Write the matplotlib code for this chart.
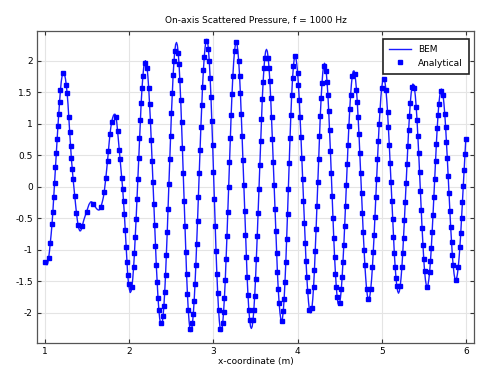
import numpy as np
import matplotlib.pyplot as plt
from matplotlib.ticker import FuncFormatter

plt.rcParams['font.family'] = ['DejaVu Sans']
plt.rcParams['axes.unicode_minus'] = False

# on-axis positions (m), sampled every 0.01 m from 1 to 6
x_first, x_last = 1.0, 6.0

# scattered pressure, one row per 0.1 m
p_bem = [
    -1.19, -1.22, -1.24, -1.21, -1.13, -1.02, -0.89, -0.75, -0.59, -0.40,
    -0.17, 0.06, 0.32, 0.54, 0.75, 0.96, 1.16, 1.35, 1.53, 1.67,
    1.76, 1.80, 1.81, 1.78, 1.71, 1.61, 1.48, 1.31, 1.10, 0.87,
    0.65, 0.45, 0.28, 0.13, -0.01, -0.15, -0.28, -0.41, -0.52, -0.61,
    -0.67, -0.70, -0.70, -0.67, -0.62, -0.57, -0.52, -0.48, -0.44, -0.40,
    -0.36, -0.32, -0.28, -0.26, -0.24, -0.24, -0.25, -0.27, -0.29, -0.31,
    -0.33, -0.35, -0.36, -0.37, -0.37, -0.35, -0.32, -0.28, -0.23, -0.17,
    -0.09, 0.02, 0.14, 0.27, 0.41, 0.56, 0.71, 0.84, 0.95, 1.03,
    1.09, 1.13, 1.15, 1.15, 1.11, 1.02, 0.88, 0.73, 0.58, 0.44,
    0.29, 0.14, -0.03, -0.22, -0.43, -0.68, -0.95, -1.20, -1.40, -1.54,
    -1.63, -1.68, -1.66, -1.59, -1.46, -1.28, -1.06, -0.80, -0.51, -0.20,
    0.13, 0.45, 0.77, 1.06, 1.33, 1.56, 1.75, 1.89, 1.97, 2.00,
    1.97, 1.89, 1.75, 1.56, 1.32, 1.05, 0.74, 0.41, 0.07, -0.27,
    -0.61, -0.94, -1.25, -1.52, -1.76, -1.95, -2.09, -2.17, -2.20, -2.17,
    -2.06, -1.90, -1.67, -1.40, -1.08, -0.72, -0.35, 0.05, 0.44, 0.81,
    1.17, 1.49, 1.77, 1.99, 2.16, 2.26, 2.29, 2.25, 2.13, 1.95,
    1.69, 1.38, 1.02, 0.62, 0.21, -0.22, -0.63, -1.03, -1.39, -1.70,
    -1.96, -2.14, -2.26, -2.30, -2.27, -2.17, -2.02, -1.81, -1.55, -1.25,
    -0.91, -0.55, -0.17, 0.21, 0.59, 0.95, 1.29, 1.59, 1.85, 2.06,
    2.21, 2.31, 2.34, 2.30, 2.18, 1.99, 1.73, 1.42, 1.05, 0.66,
    0.23, -0.19, -0.62, -1.02, -1.38, -1.69, -1.95, -2.14, -2.26, -2.30,
    -2.27, -2.16, -1.99, -1.76, -1.48, -1.15, -0.79, -0.40, 0.00, 0.39,
    0.78, 1.14, 1.47, 1.75, 1.98, 2.15, 2.26, 2.29, 2.26, 2.15,
    1.99, 1.76, 1.48, 1.16, 0.80, 0.42, 0.02, -0.38, -0.76, -1.12,
    -1.44, -1.72, -1.95, -2.11, -2.22, -2.25, -2.22, -2.12, -1.95, -1.73,
    -1.46, -1.14, -0.79, -0.42, -0.04, 0.35, 0.72, 1.07, 1.39, 1.66,
    1.88, 2.05, 2.15, 2.18, 2.15, 2.05, 1.89, 1.68, 1.41, 1.10,
    0.76, 0.40, 0.03, -0.35, -0.71, -1.05, -1.36, -1.63, -1.84, -2.00,
    -2.10, -2.13, -2.09, -1.97, -1.78, -1.51, -1.20, -0.83, -0.44, -0.03,
    0.38, 0.77, 1.14, 1.46, 1.72, 1.91, 2.03, 2.07, 2.04, 1.95,
    1.81, 1.62, 1.38, 1.10, 0.79, 0.46, 0.12, -0.23, -0.57, -0.89,
    -1.18, -1.44, -1.66, -1.83, -1.95, -2.00, -2.00, -1.93, -1.79, -1.59,
    -1.33, -1.02, -0.67, -0.31, 0.07, 0.44, 0.80, 1.13, 1.41, 1.64,
    1.82, 1.92, 1.96, 1.93, 1.83, 1.67, 1.46, 1.20, 0.90, 0.57,
    0.22, -0.14, -0.49, -0.82, -1.12, -1.38, -1.59, -1.75, -1.85, -1.88,
    -1.85, -1.76, -1.62, -1.43, -1.19, -0.92, -0.62, -0.30, 0.03, 0.36,
    0.67, 0.97, 1.23, 1.45, 1.63, 1.76, 1.83, 1.84, 1.79, 1.69,
    1.54, 1.34, 1.10, 0.83, 0.53, 0.22, -0.10, -0.42, -0.72, -1.00,
    -1.25, -1.45, -1.62, -1.73, -1.78, -1.78, -1.73, -1.62, -1.47, -1.27,
    -1.03, -0.77, -0.48, -0.17, 0.13, 0.44, 0.72, 0.99, 1.22, 1.42,
    1.57, 1.67, 1.72, 1.71, 1.65, 1.54, 1.38, 1.18, 0.94, 0.67,
    0.38, 0.07, -0.23, -0.52, -0.80, -1.06, -1.27, -1.45, -1.58, -1.66,
    -1.69, -1.66, -1.58, -1.45, -1.28, -1.06, -0.81, -0.53, -0.24, 0.06,
    0.36, 0.64, 0.90, 1.13, 1.33, 1.48, 1.58, 1.63, 1.62, 1.56,
    1.44, 1.27, 1.06, 0.81, 0.53, 0.23, -0.07, -0.37, -0.66, -0.92,
    -1.15, -1.34, -1.48, -1.56, -1.59, -1.56, -1.48, -1.35, -1.18, -0.97,
    -0.72, -0.45, -0.16, 0.12, 0.41, 0.68, 0.93, 1.14, 1.32, 1.44,
    1.52, 1.55, 1.52, 1.45, 1.32, 1.15, 0.95, 0.71, 0.45, 0.17,
    -0.10, -0.38, -0.64, -0.88, -1.09, -1.25, -1.38, -1.46, -1.48, -1.46,
    -1.39, -1.28, -1.13, -0.95, -0.74, -0.50, -0.25, 0.01, 0.27, 0.52,
    0.76,
]
# analytical solution lies on top of the BEM curve at this scale
p_analytical = list(p_bem)

x = np.linspace(x_first, x_last, len(p_bem))

fig = plt.figure(figsize=(4.79, 3.66), dpi=100)
ax = fig.add_axes([0.077, 0.063, 0.913, 0.852])

ax.plot(x, p_bem, color='#1a1aff', lw=1.0, label='BEM', zorder=3)
ax.plot(x, p_analytical, ls='none', marker='s', ms=3.0, color='#0000ff',
        markevery=0.026, label='Analytical', zorder=4)

ax.set_xlim(0.9, 6.1)
ax.set_ylim(-2.48, 2.47)
ax.set_xticks([1, 2, 3, 4, 5, 6])
ax.set_yticks(np.arange(-2, 2.01, 0.5))
ax.yaxis.set_major_formatter(FuncFormatter(lambda v, pos: '%g' % v))

ax.grid(True, color='#e4e4e4', lw=0.8)
ax.set_axisbelow(True)
ax.tick_params(direction='in', top=True, right=True, length=3, width=0.8,
               labelsize=6.5, pad=3, color='#333333')
for s in ax.spines.values():
    s.set_color('#555555')
    s.set_linewidth(0.9)

ax.set_title('On-axis Scattered Pressure, f = 1000 Hz', fontsize=6.5, pad=6)
ax.set_xlabel('x-coordinate (m)', fontsize=6.5, labelpad=1)

leg = ax.legend(loc='upper right', fontsize=6.5, fancybox=False,
                framealpha=1, edgecolor='#222222', borderpad=0.7,
                handlelength=2.4, bbox_to_anchor=(0.999, 0.99))
leg.get_frame().set_linewidth(1.2)

plt.savefig('out.png', dpi=100)
